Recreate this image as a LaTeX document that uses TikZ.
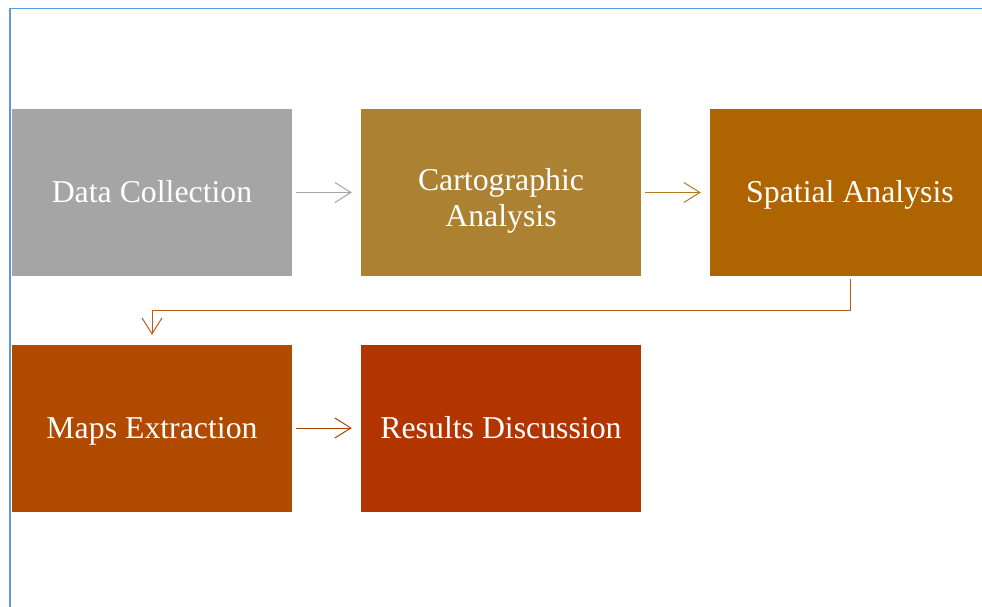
\documentclass[tikz,border=0pt]{standalone}
\usepackage{fontspec}
\setmainfont{Liberation Serif}
\usetikzlibrary{arrows.meta}
\definecolor{frameblue}{HTML}{5B9BD5}
\definecolor{stepgray}{HTML}{A5A5A5}
\definecolor{stepochre}{HTML}{AC8232}
\definecolor{stepamber}{HTML}{AE6400}
\definecolor{steprust}{HTML}{AF4A00}
\definecolor{stepred}{HTML}{B23500}
\definecolor{linkgold}{HTML}{B07A22}
\definecolor{linkbend}{HTML}{B85C14}
\definecolor{linkrust}{HTML}{B04000}
% two centred lines whose first baseline sits a given amount above the node's
\newcommand{\twolines}[3]{\raisebox{#1}{\smash{\begin{tabular}[t]{@{}c@{}}#2\\#3\end{tabular}}}}
\begin{document}
\begin{tikzpicture}[x=1pt,y=-1pt,
  stepbox/.style={minimum width=280pt, minimum height=167pt, inner sep=0pt,
    text=white, align=center, font=\fontsize{31.8}{36}\selectfont,
    text height=27pt, text depth=6.6pt},
  conn/.style={line width=1pt,
    -{Straight Barb[length=16pt,width=20pt,line width=1pt]}}]
  \path[use as bounding box] (0,0) rectangle (982,607);
  \clip (0,0) rectangle (982,607);
  % page frame
  \draw[frameblue, line width=1.5pt] (10,620) -- (10,8.5) -- (1000,8.5);
  % process steps
  \node[stepbox, fill=stepgray]  (data)    at (152,192.5) {Data Collection};
  \node[stepbox, fill=stepochre] (carto)   at (501,192.5)
    {\twolines{12pt}{Cartographic}{Analysis}};
  \node[stepbox, fill=stepamber] (spatial) at (850,192.5) {Spatial Analysis};
  \node[stepbox, fill=steprust]  (maps)    at (152,428)   {Maps Extraction};
  \node[stepbox, fill=stepred]   (results) at (501,428)   {Results Discussion};
  % connectors
  \draw[conn, stepgray] ([xshift=4pt]data.east) -- ([xshift=-9pt]carto.west);
  \draw[conn, linkgold] ([xshift=4pt]carto.east) -- ([xshift=-9pt]spatial.west);
  \draw[conn, linkbend] ([yshift=-3pt]spatial.south) -- ++(0,31)
    -| ([yshift=9.5pt]maps.north);
  \draw[conn, linkrust] ([xshift=4pt]maps.east) -- ([xshift=-9pt]results.west);
\end{tikzpicture}
\end{document}
